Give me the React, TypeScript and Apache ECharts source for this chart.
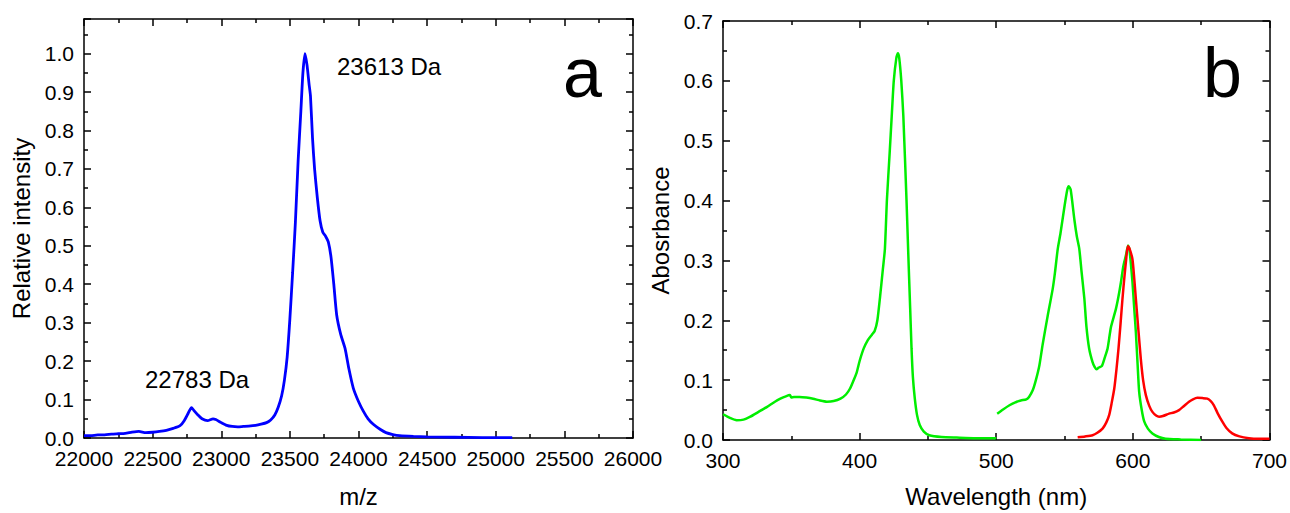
import React, { useEffect, useRef } from "react";
import * as echarts from "echarts";

// ---- Panel a: mass spectrum (m/z vs relative intensity)
const mzX = [
  22000, 22050, 22100, 22150, 22200, 22250, 22300, 22350, 22400, 22450, 22500, 22550,
  22600, 22650, 22700, 22730, 22760, 22783, 22800, 22830, 22860, 22900, 22940, 22960,
  23000, 23040, 23080, 23120, 23160, 23200, 23250, 23290, 23330, 23360, 23390, 23415,
  23440, 23460, 23480, 23500, 23520, 23540, 23560, 23580, 23595, 23610, 23625, 23640,
  23650, 23665, 23680, 23700, 23720, 23740, 23760, 23780, 23800, 23820, 23841, 23870,
  23902, 23930, 23962, 24000, 24035, 24070, 24110, 24160, 24200, 24250, 24300, 24400,
  24500, 24700, 24900, 25120,
];
const mzY = [
  0.006, 0.006, 0.008, 0.008, 0.010, 0.011, 0.012, 0.015, 0.017, 0.014, 0.015, 0.017,
  0.020, 0.025, 0.032, 0.045, 0.065, 0.079, 0.072, 0.060, 0.050, 0.045, 0.050, 0.048,
  0.040, 0.033, 0.030, 0.029, 0.030, 0.031, 0.033, 0.036, 0.040, 0.047, 0.060, 0.080,
  0.110, 0.150, 0.210, 0.310, 0.430, 0.560, 0.720, 0.850, 0.950, 1.000, 0.970, 0.920,
  0.890, 0.780, 0.700, 0.625, 0.565, 0.535, 0.525, 0.510, 0.470, 0.400, 0.320, 0.270,
  0.233, 0.180, 0.130, 0.095, 0.070, 0.050, 0.035, 0.022, 0.014, 0.009, 0.006, 0.004,
  0.003, 0.002, 0.001, 0.001,
];

// ---- Panel b: absorbance spectra
const greenAX = [
  300, 305, 310, 315, 320, 326, 332, 338, 342, 346, 349, 350, 352, 356, 361, 366, 371,
  376, 381, 386, 390, 393, 396, 398, 400, 403, 406, 409, 411, 413, 415, 417, 418.5, 420,
  422, 423.5, 425, 427, 428, 429, 430.5, 432, 434.3, 435.5, 437, 438, 439, 440.4, 442,
  444, 447, 451, 460, 471, 485, 500,
];
const greenAY = [
  0.043, 0.037, 0.033, 0.034, 0.039, 0.047, 0.055, 0.064, 0.069, 0.073, 0.075, 0.071,
  0.072, 0.072, 0.071, 0.069, 0.066, 0.064, 0.065, 0.069, 0.076, 0.086, 0.102, 0.114,
  0.132, 0.153, 0.167, 0.176, 0.182, 0.200, 0.240, 0.285, 0.319, 0.402, 0.480, 0.541,
  0.600, 0.640, 0.646, 0.638, 0.600, 0.541, 0.402, 0.319, 0.220, 0.153, 0.105, 0.069,
  0.042, 0.025, 0.014, 0.008, 0.005, 0.004, 0.003, 0.003,
];
const greenBX = [
  500.7, 505, 509.7, 514, 518, 522, 524, 526.7, 529, 531.6, 534, 537.7, 541.3, 543, 545,
  547, 550, 552, 553, 554.5, 557.2, 559, 560.8, 562.5, 564.5, 566, 568, 570.5, 572,
  573.4, 575, 577.4, 579.5, 581.5, 583, 584, 587.6, 589.5, 591.3, 593, 594.9, 596.5,
  597.5, 599.7, 601, 602.2, 603.5, 604.6, 606.5, 608.3, 611, 614.3, 619, 624, 635, 650,
];
const greenBY = [
  0.044, 0.051, 0.058, 0.063, 0.066, 0.068, 0.072, 0.083, 0.100, 0.125, 0.160, 0.208,
  0.252, 0.280, 0.319, 0.345, 0.391, 0.418, 0.424, 0.418, 0.368, 0.340, 0.319, 0.280,
  0.236, 0.190, 0.153, 0.130, 0.122, 0.118, 0.121, 0.124, 0.138, 0.153, 0.175, 0.189,
  0.219, 0.240, 0.264, 0.290, 0.308, 0.325, 0.318, 0.264, 0.220, 0.180, 0.125, 0.081,
  0.050, 0.031, 0.019, 0.011, 0.005, 0.002, 0.001, 0.000,
];
const redX = [
  559.6, 565, 570.5, 574, 577.8, 580.5, 582.7, 584.5, 586.4, 588, 589.5, 591, 592.4,
  593.8, 594.9, 596.3, 597.5, 599.7, 601, 602.2, 604, 605.8, 607.5, 609.5, 612, 614.3,
  617, 619.2, 622, 626.5, 630, 633.8, 637, 641.1, 644, 647.2, 651, 654.5, 657, 659.3,
  662, 665.4, 668.5, 672.7, 678, 684.9, 692, 700,
];
const redY = [
  0.0045, 0.006, 0.008, 0.012, 0.019, 0.029, 0.042, 0.062, 0.086, 0.118, 0.153, 0.195,
  0.236, 0.272, 0.297, 0.324, 0.320, 0.302, 0.270, 0.236, 0.185, 0.136, 0.100, 0.075,
  0.057, 0.047, 0.041, 0.039, 0.040, 0.044, 0.046, 0.050, 0.056, 0.064, 0.068, 0.0705,
  0.070, 0.069, 0.065, 0.058, 0.045, 0.031, 0.020, 0.011, 0.006, 0.003, 0.002, 0.002,
];

const FONT = "'Liberation Sans', Arial, Helvetica, sans-serif";
const zip = (xs: number[], ys: number[]) => xs.map((x, i) => [x, ys[i]]);
const fmtInt = (v: number) => String(Math.round(v));
const fmt1 = (v: number) =>
  Math.abs(v * 10 - Math.round(v * 10)) < 1e-6 ? v.toFixed(1) : "";

function axisBase(show: boolean, formatter?: (v: number) => string) {
  return {
    axisLine: { show: true, onZero: false, lineStyle: { color: "#000", width: 1.5 } },
    axisTick: { show: true, inside: true, length: 7, lineStyle: { color: "#000", width: 1.5 } },
    minorTick: { show: true, splitNumber: 2, length: 4, lineStyle: { color: "#000", width: 1.5 } },
    splitLine: { show: false },
    axisLabel: {
      show,
      color: "#000",
      fontSize: 21,
      fontFamily: FONT,
      margin: 10,
      formatter,
    },
  };
}

export default function App() {
  const ref = useRef<HTMLDivElement>(null);
  useEffect(() => {
    if (!ref.current) return;
    const chart = echarts.init(ref.current, undefined, { renderer: "svg" });
    const nameStyle = { color: "#000", fontSize: 24, fontFamily: FONT };
    chart.setOption({
      animation: false,
      backgroundColor: "#fff",
      grid: [
        { left: 84, top: 19, width: 549, height: 421 },
        { left: 723, top: 21, width: 548, height: 421 },
      ],
      xAxis: [
        {
          ...axisBase(true, fmtInt),
          type: "value",
          gridIndex: 0,
          position: "bottom",
          min: 22000,
          max: 26000,
          interval: 500,
          name: "m/z",
          nameLocation: "middle",
          nameGap: 46,
          nameTextStyle: nameStyle,
        },
        {
          ...axisBase(false),
          type: "value",
          gridIndex: 0,
          position: "top",
          min: 22000,
          max: 26000,
          interval: 500,
        },
        {
          ...axisBase(true, fmtInt),
          type: "value",
          gridIndex: 1,
          position: "bottom",
          min: 300,
          max: 700,
          interval: 100,
          name: "Wavelength (nm)",
          nameLocation: "middle",
          nameGap: 44,
          nameTextStyle: nameStyle,
        },
        {
          ...axisBase(false),
          type: "value",
          gridIndex: 1,
          position: "top",
          min: 300,
          max: 700,
          interval: 100,
        },
      ],
      yAxis: [
        {
          ...axisBase(true, fmt1),
          type: "value",
          gridIndex: 0,
          position: "left",
          min: 0,
          max: 1.09,
          interval: 0.1,
          name: "Relative intensity",
          nameLocation: "middle",
          nameGap: 51,
          nameTextStyle: nameStyle,
        },
        {
          ...axisBase(false),
          type: "value",
          gridIndex: 0,
          position: "right",
          min: 0,
          max: 1.09,
          interval: 0.1,
        },
        {
          ...axisBase(true, fmt1),
          type: "value",
          gridIndex: 1,
          position: "left",
          min: 0,
          max: 0.7,
          interval: 0.1,
          name: "Abosrbance",
          nameLocation: "middle",
          nameGap: 51,
          nameTextStyle: nameStyle,
        },
        {
          ...axisBase(false),
          type: "value",
          gridIndex: 1,
          position: "right",
          min: 0,
          max: 0.7,
          interval: 0.1,
        },
      ],
      series: [
        {
          type: "line",
          xAxisIndex: 0,
          yAxisIndex: 0,
          data: zip(mzX, mzY),
          showSymbol: false,
          smooth: 0.2,
          lineStyle: { color: "#0000ff", width: 2.8 },
        },
        {
          type: "line",
          xAxisIndex: 2,
          yAxisIndex: 2,
          data: zip(greenAX, greenAY),
          showSymbol: false,
          smooth: 0.2,
          lineStyle: { color: "#00ee00", width: 2.5 },
        },
        {
          type: "line",
          xAxisIndex: 2,
          yAxisIndex: 2,
          data: zip(greenBX, greenBY),
          showSymbol: false,
          smooth: 0.2,
          lineStyle: { color: "#00ee00", width: 2.5 },
        },
        {
          type: "line",
          xAxisIndex: 2,
          yAxisIndex: 2,
          data: zip(redX, redY),
          showSymbol: false,
          smooth: 0.2,
          lineStyle: { color: "#ff0000", width: 2.5 },
        },
      ],
      graphic: [
        { type: "text", left: 337, top: 54, style: { text: "23613 Da", fontSize: 24, fontFamily: FONT, fill: "#000" } },
        { type: "text", left: 145, top: 367, style: { text: "22783 Da", fontSize: 24, fontFamily: FONT, fill: "#000" } },
        { type: "text", left: 563, top: 38, style: { text: "a", fontSize: 70, fontFamily: FONT, fill: "#000" } },
        { type: "text", left: 1203, top: 38, style: { text: "b", fontSize: 70, fontFamily: FONT, fill: "#000" } },
      ],
    });
    return () => chart.dispose();
  }, []);
  return (
    <div
      ref={ref}
      style={{ position: "fixed", left: 0, top: 0, width: 1290, height: 513, background: "#fff" }}
    />
  );
}
